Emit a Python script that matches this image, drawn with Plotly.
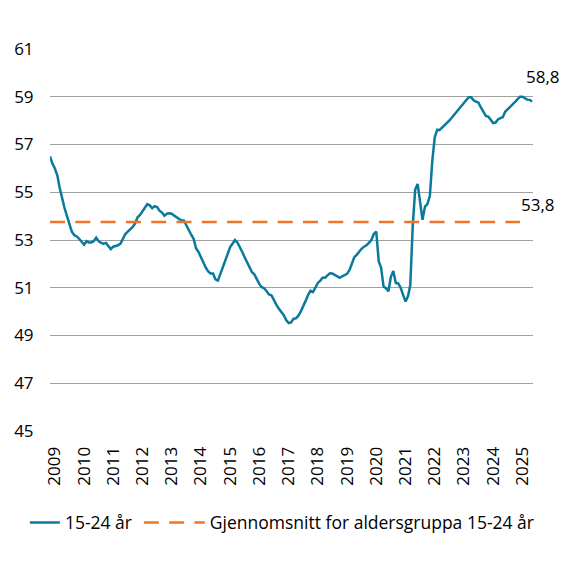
import pandas as pd
import plotly.graph_objects as go

# -----------------------------
# Andel 15-24 år, månedlig (prosent)
# -----------------------------
values = [
    56.5, 56.2, 56.0, 55.7, 55.2, 54.7, 54.35, 54.0, 53.7, 53.35,
    53.2, 53.15, 53.05, 52.9, 52.8, 52.95, 52.9, 52.9, 52.95, 53.1,
    52.95, 52.88, 52.85, 52.88, 52.75, 52.62, 52.72, 52.75, 52.78, 52.85,
    53.05, 53.25, 53.35, 53.45, 53.55, 53.7, 53.95, 54.05, 54.2, 54.35,
    54.5, 54.45, 54.33, 54.42, 54.38, 54.23, 54.15, 54.02, 54.1, 54.12,
    54.1, 54.02, 53.95, 53.9, 53.82, 53.82, 53.6, 53.4, 53.22, 53.05,
    52.65, 52.5, 52.25, 52.05, 51.85, 51.68, 51.6, 51.6, 51.35, 51.3,
    51.6, 51.9, 52.2, 52.45, 52.7, 52.85, 53.0, 52.9, 52.72, 52.5,
    52.28, 52.05, 51.88, 51.65, 51.55, 51.35, 51.15, 51.02, 50.98, 50.85,
    50.72, 50.68, 50.45, 50.28, 50.12, 49.98, 49.85, 49.65, 49.52, 49.55,
    49.7, 49.72, 49.82, 50.0, 50.2, 50.45, 50.7, 50.88, 50.82, 51.0,
    51.2, 51.3, 51.42, 51.42, 51.5, 51.61, 51.6, 51.55, 51.48, 51.42,
    51.48, 51.52, 51.58, 51.75, 52.0, 52.28, 52.38, 52.52, 52.63, 52.72,
    52.78, 52.88, 53.0, 53.25, 53.35, 52.1, 51.85, 51.05, 50.98, 50.85,
    51.45, 51.7, 51.2, 51.18, 51.0, 50.7, 50.42, 50.65, 51.1, 53.6,
    55.1, 55.35, 54.5, 53.85, 54.4, 54.5, 54.85, 56.3, 57.3, 57.62,
    57.6, 57.7, 57.78, 57.88, 58.0, 58.12, 58.25, 58.38, 58.5, 58.62,
    58.75, 58.88, 58.98, 58.98, 58.85, 58.8, 58.75, 58.55, 58.35, 58.2,
    58.17, 58.05, 57.9, 57.92, 58.05, 58.1, 58.15, 58.38, 58.48, 58.55,
    58.65, 58.78, 58.9, 59.0, 59.0, 58.95, 58.88, 58.87, 58.8,
]
dates = pd.date_range('2008-11-01', periods=len(values), freq='MS')

avg_value = 53.75
avg_months = 194  # snittlinja slutter litt før siste observasjon

year_ticks = [str(y) for y in range(2009, 2026)]
y_ticks = [45, 47, 49, 51, 53, 55, 57, 59, 61]

blue = '#0a7a9c'
orange = '#ee7427'
font = 'Open Sans'
fsize = 17


def fmt(v):
    return f'{v:.1f}'.replace('.', ',')


fig = go.Figure()
fig.add_trace(go.Scatter(
    x=dates, y=values, mode='lines', name='15-24 år',
    line=dict(color=blue, width=2.5), legend='legend',
))
fig.add_trace(go.Scatter(
    x=dates[:avg_months], y=[avg_value] * avg_months, mode='lines',
    name='Gjennomsnitt for aldersgruppa 15-24 år',
    line=dict(color=orange, width=2.5, dash='15px,10.3px'), legend='legend2',
))

# verdietiketter
fig.add_annotation(x=dates[-1], y=values[-1], text=fmt(values[-1]),
                   showarrow=False, xanchor='center', yanchor='middle',
                   xshift=11, yshift=25, font=dict(size=fsize, color='#000'))
fig.add_annotation(x=dates[avg_months - 1], y=avg_value, text=fmt(avg_value),
                   showarrow=False, xanchor='left', yanchor='middle',
                   xshift=-1, yshift=18, font=dict(size=fsize, color='#000'))

# sida har 8 px kantmarg i nettleseren, så margene er justert for det
legend_style = dict(orientation='h', xanchor='left', y=-0.24, yanchor='middle',
                    font=dict(size=17.5), tracegroupgap=0,
                    bgcolor='rgba(0,0,0,0)')
fig.update_layout(
    width=575, height=568,
    margin=dict(l=42, r=50, t=41, b=145, autoexpand=False),
    paper_bgcolor='white', plot_bgcolor='white',
    font=dict(family=font, size=fsize, color='#000'),
    showlegend=True,
    legend=dict(x=-0.052, itemwidth=30, **legend_style),
    legend2=dict(x=0.184, itemwidth=61, **legend_style),
    xaxis=dict(
        type='date', range=['2008-11-01', '2025-05-13'],
        tickvals=[f'{y}-01-01' for y in year_ticks], ticktext=year_ticks,
        tickangle=-90, showgrid=False, zeroline=False, showline=False,
        ticks='outside', ticklen=8, tickcolor='rgba(0,0,0,0)', automargin=False,
    ),
    yaxis=dict(
        range=[45, 61], tickvals=y_ticks, ticktext=[str(v) for v in y_ticks],
        showgrid=True, gridcolor='#a0a0a0', gridwidth=1, zeroline=False,
        showline=False, ticks='outside', ticklen=12, tickcolor='rgba(0,0,0,0)',
        automargin=False,
    ),
)

fig.write_html('out.html')
